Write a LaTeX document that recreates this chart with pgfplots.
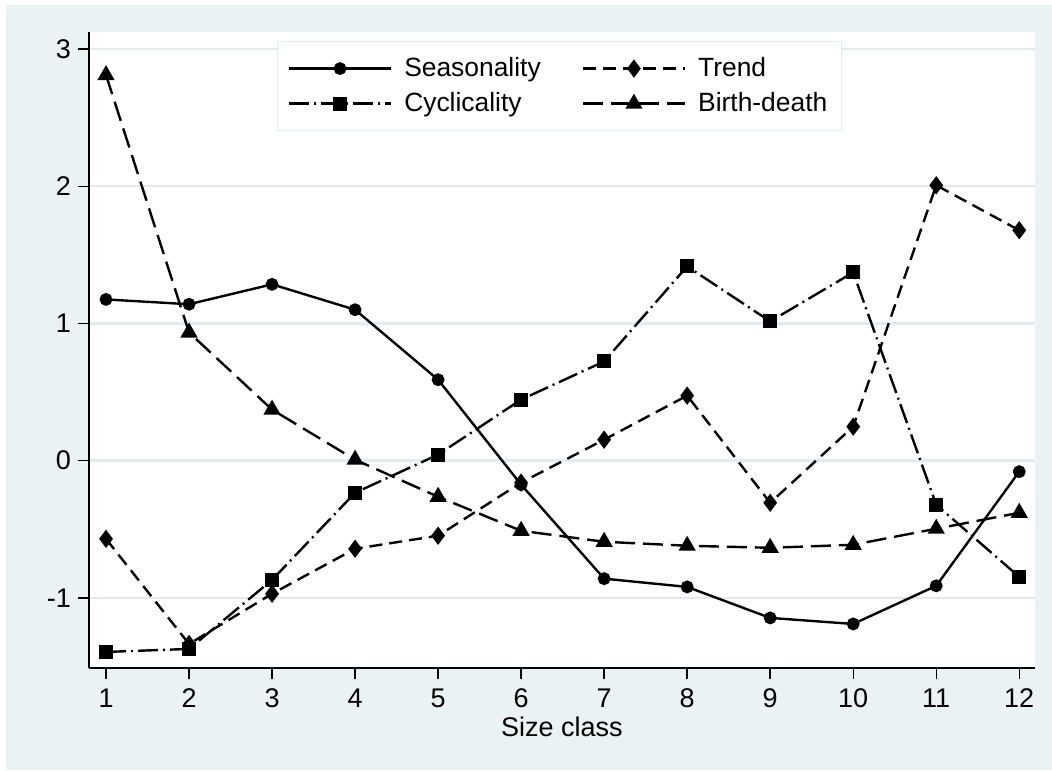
\documentclass[border=0pt]{standalone}
\usepackage{pgfplots}
\pgfplotsset{compat=1.18}
\usepackage{fontspec}
\setmainfont{Liberation Sans}
\definecolor{bgc}{HTML}{EAF2F3}
\definecolor{gridc}{HTML}{E2ECEE}
\begin{document}
\begin{tikzpicture}
\fill[white] (-44.5pt,-51pt) rectangle (481.5pt,334pt);
\fill[bgc] (-41.5pt,-51pt) rectangle (481.5pt,331.5pt);
\begin{axis}[
  at={(0,0)}, anchor=south west,
  scale only axis, width=473pt, height=318pt,
  xmin=0.795, xmax=12.19, ymin=-1.511, ymax=3.124,
  xtick={1,2,3,4,5,6,7,8,9,10,11,12},
  ytick={-1,0,1,2,3},
  axis x line*=bottom, axis y line*=left,
  tick align=outside, major tick length=5.5pt,
  ymajorgrids, grid style={gridc, line width=1.2pt},
  axis background/.style={fill=white},
  axis line style={line width=0.7pt, black},
  tick style={black, line width=0.7pt},
  ticklabel style={font=\fontsize{13.5}{15}\selectfont},
  xticklabel style={yshift=-1.5pt},
  /pgf/number format/assume math mode=true,
  xlabel={Size class},
  xlabel style={font=\fontsize{13.5}{15}\selectfont, yshift=2.5pt},
  legend columns=2,
  legend style={at={(0.199,0.986)}, anchor=north west, draw=gridc, fill=white,
    line width=0.6pt, font=\fontsize{13.2}{16}\selectfont,
    inner xsep=5pt, inner ysep=6pt, row sep=2.5pt,
    /tikz/every odd column/.append style={column sep=4pt},
    /tikz/every even column/.append style={column sep=18.5pt}},
  legend cell align=left,
  legend image code/.code={\draw[mark repeat=2,mark phase=2,#1] plot coordinates {(0pt,0pt)(25.5pt,0pt)(51pt,0pt)};},
  every axis plot/.append style={black, line width=1.2pt, mark options={solid, fill=black}},
]
% Seasonality
\addplot[solid, mark=*, mark size=2.6pt] coordinates {
(1,1.175) (2,1.14) (3,1.285) (4,1.10) (5,0.59) (6,-0.175)
(7,-0.86) (8,-0.92) (9,-1.146) (10,-1.19) (11,-0.912) (12,-0.08)};
\addlegendentry{Seasonality}
% Trend
\addplot[dash pattern=on 6.5pt off 3.5pt, mark=diamond*, mark size=3.6pt] coordinates {
(1,-0.57) (2,-1.336) (3,-0.97) (4,-0.642) (5,-0.547) (6,-0.16)
(7,0.153) (8,0.474) (9,-0.307) (10,0.248) (11,2.007) (12,1.679)};
\addlegendentry{Trend}
% Cyclicality
\addplot[dash pattern=on 10pt off 2.5pt on 1pt off 2.5pt, mark=square*, mark size=2.9pt] coordinates {
(1,-1.394) (2,-1.372) (3,-0.869) (4,-0.234) (5,0.044) (6,0.445)
(7,0.723) (8,1.416) (9,1.015) (10,1.372) (11,-0.321) (12,-0.847)};
\addlegendentry{Cyclicality}
% Birth-death
\addplot[dash pattern=on 10pt off 4pt, mark=triangle*, mark size=3.8pt] coordinates {
(1,2.81) (2,0.934) (3,0.372) (4,0.007) (5,-0.263) (6,-0.511)
(7,-0.591) (8,-0.62) (9,-0.635) (10,-0.613) (11,-0.496) (12,-0.38)};
\addlegendentry{Birth-death}
\end{axis}
\end{tikzpicture}
\end{document}
